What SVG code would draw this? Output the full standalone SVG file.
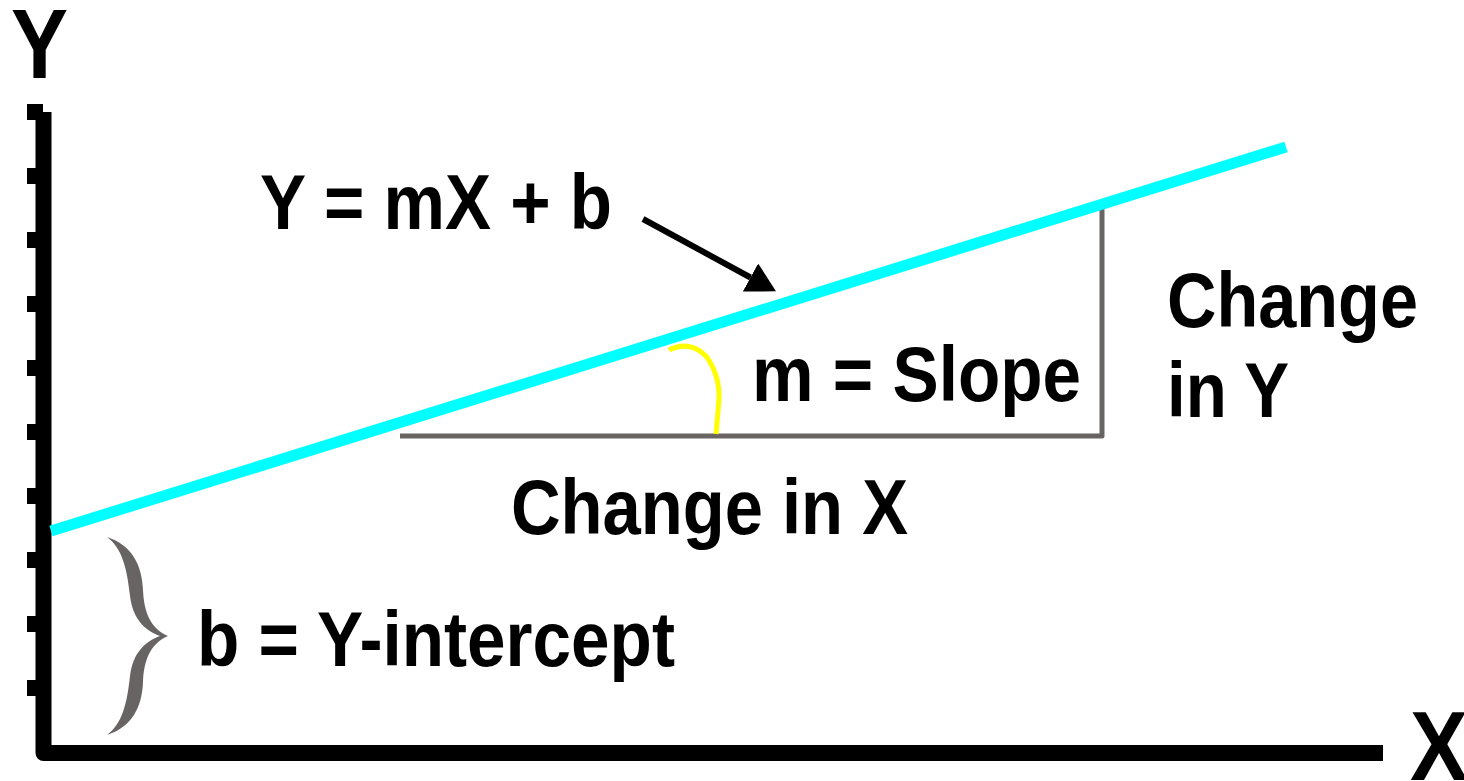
<svg xmlns="http://www.w3.org/2000/svg" width="1464" height="781" viewBox="0 0 1464 781">
  <style>
    .lbl { font-family: "Liberation Sans", Arial, Helvetica, sans-serif; font-weight: bold; fill: #000; }
    .big { font-size: 98px; }
    .mid { font-size: 77px; }
    .gray { stroke: #686464; stroke-width: 5; fill: none; }
    .tick { fill: #000; }
  </style>
  <defs>
    <marker id="head" markerUnits="userSpaceOnUse" markerWidth="30" markerHeight="32" refX="0" refY="16" orient="auto" viewBox="0 0 30 32">
      <path d="M0,0 L29,16 L0,32 Z" fill="#000"/>
    </marker>
  </defs>
  <rect width="1464" height="781" fill="#fff"/>

  <g id="axes">
    <path d="M43.5,112 L43.5,753 L1383,753" fill="none" stroke="#000" stroke-width="16" stroke-linejoin="round"/>
    <rect class="tick" x="27" y="104" width="16" height="16"/>
    <rect class="tick" x="27" y="168" width="10" height="16"/>
    <rect class="tick" x="27" y="232" width="10" height="16"/>
    <rect class="tick" x="27" y="296" width="10" height="16"/>
    <rect class="tick" x="27" y="360" width="10" height="16"/>
    <rect class="tick" x="27" y="424" width="10" height="16"/>
    <rect class="tick" x="27" y="488" width="10" height="16"/>
    <rect class="tick" x="27" y="552" width="10" height="16"/>
    <rect class="tick" x="27" y="616" width="10" height="16"/>
    <rect class="tick" x="27" y="680" width="10" height="16"/>
  </g>

  <g id="label-y"><text class="lbl big" x="11" y="78" textLength="57" lengthAdjust="spacingAndGlyphs">Y</text></g>
  <g id="label-x"><text class="lbl big" x="1410" y="780" textLength="58" lengthAdjust="spacingAndGlyphs">X</text></g>

  <g id="slope-triangle">
    <path class="gray" d="M400,436 L1102,436 L1102,209" stroke-linejoin="round"/>
  </g>

  <g id="regression-line">
    <line x1="51" y1="531" x2="1286" y2="147" stroke="#00FFFF" stroke-width="11"/>
  </g>

  <g id="angle-arc">
    <path d="M669,350 Q690,340 706,356 Q720,375 719,400 L716,434" fill="none" stroke="#FFFF00" stroke-width="5"/>
  </g>

  <g id="brace">
    <path d="M107,537 C132,545 142,565 143,590 C144,612 150,628 168,636 C150,644 144,660 143,682 C142,707 132,727 107,735 C122,724 127,704 130,676 C133,652 146,641 160,636 C146,631 133,620 130,596 C127,568 122,548 107,537 Z" fill="#686464"/>
  </g>

  <g id="equation"><text class="lbl mid" x="260" y="229" textLength="352" lengthAdjust="spacingAndGlyphs">Y = mX + b</text></g>
  <g id="slope-label"><text class="lbl mid" x="752" y="401" textLength="329" lengthAdjust="spacingAndGlyphs">m = Slope</text></g>
  <g id="change-y"><text class="lbl mid" x="1167" y="327" textLength="251" lengthAdjust="spacingAndGlyphs">Change</text><text class="lbl mid" x="1167" y="417" textLength="122" lengthAdjust="spacingAndGlyphs">in Y</text></g>
  <g id="change-x"><text class="lbl mid" x="511" y="534" textLength="397" lengthAdjust="spacingAndGlyphs">Change in X</text></g>
  <g id="intercept-label"><text class="lbl mid" x="197" y="666" textLength="478" lengthAdjust="spacingAndGlyphs">b = Y-intercept</text></g>

  <g id="connectors">
    <line x1="643" y1="219" x2="750.5" y2="277.5" stroke="#000" stroke-width="6" marker-end="url(#head)"/>
  </g>
</svg>
